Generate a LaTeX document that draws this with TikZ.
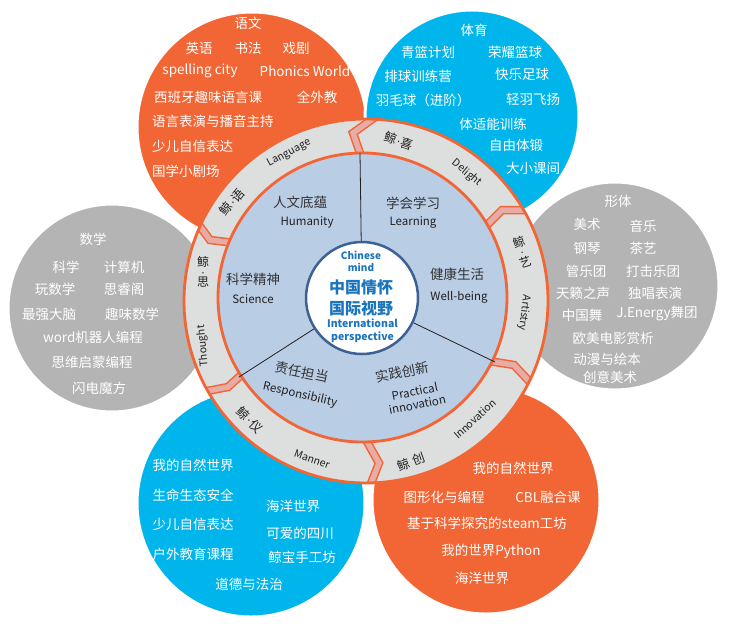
\documentclass[tikz,border=0pt]{standalone}
\usepackage{fontspec}
\setmainfont{Noto Sans CJK SC}
\newfontfamily\jdotfont{Liberation Sans}
\newcommand\jdot{{\jdotfont\kern0.5pt·\kern0.5pt}}
\usetikzlibrary{calc}
\definecolor{corange}{HTML}{F26535}
\definecolor{cblue}{HTML}{00B5EB}
\definecolor{cgray}{HTML}{B4B4B4}
\definecolor{ringgray}{HTML}{DDDEDE}
\definecolor{diskblue}{HTML}{B9CDE5}
\definecolor{chpink}{HTML}{E8ABA6}
\definecolor{ctxt}{HTML}{1B75BC}
\definecolor{cborder}{HTML}{3D6192}
\definecolor{ringtxt}{HTML}{231F20}
\definecolor{disktxt}{HTML}{333333}
\begin{document}
\begin{tikzpicture}[x=1pt,y=-1pt,
  petal/.style={draw=white,line width=3pt},
  pt/.style={text=white,font=\fontsize{13.5}{15}\selectfont,inner sep=0pt},
  dcn/.style={text=disktxt,font=\fontsize{13.5}{15}\selectfont,inner sep=0pt},
  den/.style={text=ringtxt,font=\fontsize{11.5}{13}\selectfont,inner sep=0pt},
  rl/.style={text=ringtxt,font=\fontsize{10.5}{12}\selectfont,inner sep=0pt},
  rc/.style={text=ringtxt,font=\fontsize{12.5}{14}\selectfont,inner sep=0pt},
  rv/.style={text=ringtxt,font=\fontsize{12}{9.8}\selectfont,inner sep=0pt,align=center},
  chev/.style={line width=8.5pt,draw=corange,line join=miter},
  chevin/.style={line width=5.5pt,draw=chpink,line join=miter},
  ctb/.style={text=ctxt,font=\bfseries\fontsize{16}{18}\selectfont,inner sep=0pt},
  ctl/.style={text=ctxt,font=\bfseries\fontsize{10}{11.5}\selectfont,inner sep=0pt,align=center},
  radial/.style={draw=ringtxt,line width=0.8pt}]
\useasboundingbox (0,0) rectangle (733,625);
\fill[white] (0,0) rectangle (733,625);

% petals
\filldraw[petal,fill=cgray] (112,308) circle[radius=104pt];
\filldraw[petal,fill=cgray] (615,286) circle[radius=104pt];
\filldraw[petal,fill=corange] (252,127) circle[radius=115pt];
\filldraw[petal,fill=cblue] (472,117) circle[radius=107pt];
\filldraw[petal,fill=cblue] (251,503) circle[radius=114pt];
\filldraw[petal,fill=corange] (486,500) circle[radius=114pt];

% ring
\fill[ringgray] (366,301) circle[radius=182pt];
\coordinate (i1) at (360,153); \coordinate (t1) at (353,133); \coordinate (o1) at (371,120);
\coordinate (i2) at (491,221); \coordinate (t2) at (502,210); \coordinate (o2) at (526,210);
\coordinate (i3) at (495,362); \coordinate (t3) at (514,365); \coordinate (o3) at (528,380);
\coordinate (i4) at (370,447); \coordinate (t4) at (379,463); \coordinate (o4) at (370,486);
\coordinate (i5) at (239,377); \coordinate (t5) at (228,387); \coordinate (o5) at (202,392);
\coordinate (i6) at (227,242); \coordinate (t6) at (210,240); \coordinate (o6) at (199,225);
\begin{scope}
\clip (366,301) circle[radius=182pt];
\foreach \k in {1,...,6}{
  \draw[chev] ($(t\k)!1.4!(i\k)$) -- (t\k) -- ($(t\k)!1.4!(o\k)$);
  \draw[chevin] ($(t\k)!1.4!(i\k)$) -- (t\k) -- ($(t\k)!1.4!(o\k)$);
}
\end{scope}
\draw[corange,line width=2.8pt] (366,301) circle[radius=182pt];
\filldraw[fill=diskblue,draw=corange,line width=2.8pt] (362.5,297.5) circle[radius=144.5pt];

% centre
\node[circle,draw=cborder,line width=2.5pt,fill=white,minimum size=112pt,inner sep=0pt] (c) at (362,298) {};
\draw[radial] (c) -- (i1);
\draw[radial] (c) -- (i3);
\draw[radial] (c) -- (i5);
\node[ctl] (cm) at (361,261.5) {Chinese\\mind};
\node[ctb] (c1) at (361,287) {中国情怀};
\node[ctb] (c2) at (361,308) {国际视野};
\node[ctl,font=\bfseries\fontsize{10.5}{13}\selectfont] (cp) at (362.5,330.5) {International\\perspective};

% disk texts
\node[dcn] (d1) at (300,202) {人文底蕴};
\node[den] (d1e) at (307,222) {Humanity};
\node[dcn] (d2) at (413,203) {学会学习};
\node[den] (d2e) at (413,222) {Learning};
\node[dcn] (d3) at (253,279) {科学精神};
\node[den] (d3e) at (253,299) {Science};
\node[dcn] (d4) at (457,274) {健康生活};
\node[den] (d4e) at (459,297) {Well-being};
\node[dcn,rotate=-12] (d5) at (302,372) {责任担当};
\node[den,rotate=-13] (d5e) at (300,395) {Responsibility};
\node[dcn,rotate=11] (d6) at (402,372) {实践创新};
\node[den,rotate=11,align=center,font=\fontsize{11.5}{13.5}\selectfont] (d6e) at (416,398) {Practical\\innovation};

% ring labels
\node[rl,rotate=28] (r1e) at (289,153) {Language};
\node[rc,rotate=50] (r1) at (232,202) {鲸\jdot 语};
\node[rc,rotate=-18] (r2) at (399,141) {鲸\jdot 喜};
\node[rl,rotate=-40] (r2e) at (467,173) {Delight};
\node[rv,rotate=18] (r3) at (522,252) {鲸\\\jdot\\艺};
\node[rl,rotate=-97] (r3e) at (524,313) {Artistry};
\node[rl,rotate=42] (r4e) at (475,419) {Innovation};
\node[rc,rotate=20] (r4) at (411,462) {鲸\kern4pt 创};
\node[rl,rotate=-20] (r5e) at (312,459) {Manner};
\node[rc,rotate=-45] (r5) at (250,420) {鲸\jdot 仪};
\node[rv] (r6) at (203,272) {鲸\\\jdot\\思};
\node[rl,rotate=95] (r6e) at (203,346) {Thought};

% petal 1 (orange, top left)
\node[pt] (a1) at (248,23) {语文};
\node[pt] (a2) at (199,48) {英语};
\node[pt] (a3) at (248,48) {书法};
\node[pt] (a4) at (296,48) {戏剧};
\node[pt] (a5) at (200,71) {spelling city};
\node[pt] (a6) at (305,71) {Phonics World};
\node[pt] (a7) at (208,97) {西班牙趣味语言课};
\node[pt] (a8) at (317,97) {全外教};
\node[pt,anchor=west] (a9) at (152,121) {语言表演与播音主持};
\node[pt,anchor=west] (a10) at (152,146) {少儿自信表达};
\node[pt,anchor=west] (a11) at (152,171) {国学小剧场};

% petal 2 (blue, top right)
\node[pt] (b1) at (474,30) {体育};
\node[pt] (b2) at (428,52) {青篮计划};
\node[pt] (b3) at (515,52) {荣耀篮球};
\node[pt] (b4) at (418,76) {排球训练营};
\node[pt] (b5) at (522,74) {快乐足球};
\node[pt] (b6) at (423,100) {羽毛球（进阶）};
\node[pt] (b7) at (533,99) {轻羽飞扬};
\node[pt] (b8) at (493,124) {体适能训练};
\node[pt] (b9) at (516,145) {自由体锻};
\node[pt] (b10) at (533,168) {大小课间};

% petal 3 (gray, right)
\node[pt] (e1) at (618,201) {形体};
\node[pt] (e2) at (587,224) {美术};
\node[pt] (e3) at (643,226) {音乐};
\node[pt] (e4) at (587,248) {钢琴};
\node[pt] (e5) at (643,248) {茶艺};
\node[pt] (e6) at (586,271) {管乐团};
\node[pt] (e7) at (653,271) {打击乐团};
\node[pt] (e8) at (583,293) {天籁之声};
\node[pt] (e9) at (655,293) {独唱表演};
\node[pt] (e10) at (582,315) {中国舞};
\node[pt] (e11) at (657,314) {J.Energy舞团};
\node[pt] (e12) at (613,338) {欧美电影赏析};
\node[pt] (e13) at (607,359) {动漫与绘本};
\node[pt] (e14) at (610,377) {创意美术};

% petal 4 (gray, left)
\node[pt] (f1) at (93,239) {数学};
\node[pt] (f2) at (66,267) {科学};
\node[pt] (f3) at (124,267) {计算机};
\node[pt] (f4) at (55,289) {玩数学};
\node[pt] (f5) at (124,289) {思睿阁};
\node[pt] (f6) at (49,314) {最强大脑};
\node[pt] (f7) at (132,314) {趣味数学};
\node[pt] (f8) at (93,337) {word机器人编程};
\node[pt] (f9) at (92,362) {思维启蒙编程};
\node[pt] (f10) at (99,388) {闪电魔方};

% petal 5 (blue, bottom left)
\node[pt] (g1) at (193,465) {我的自然世界};
\node[pt] (g2) at (193,495) {生命生态安全};
\node[pt] (g3) at (193,524) {少儿自信表达};
\node[pt] (g4) at (193,554) {户外教育课程};
\node[pt] (g5) at (293,506) {海洋世界};
\node[pt] (g6) at (300,533) {可爱的四川};
\node[pt] (g7) at (302,557) {鲸宝手工坊};
\node[pt] (g8) at (249,584) {道德与法治};

% petal 6 (orange, bottom right)
\node[pt] (h1) at (513,468) {我的自然世界};
\node[pt] (h2) at (444,497) {图形化与编程};
\node[pt] (h3) at (548,497) {CBL融合课};
\node[pt] (h4) at (487,523) {基于科学探究的steam工坊};
\node[pt] (h5) at (491,551) {我的世界Python};
\node[pt] (h6) at (482,578) {海洋世界};
\end{tikzpicture}
\end{document}
